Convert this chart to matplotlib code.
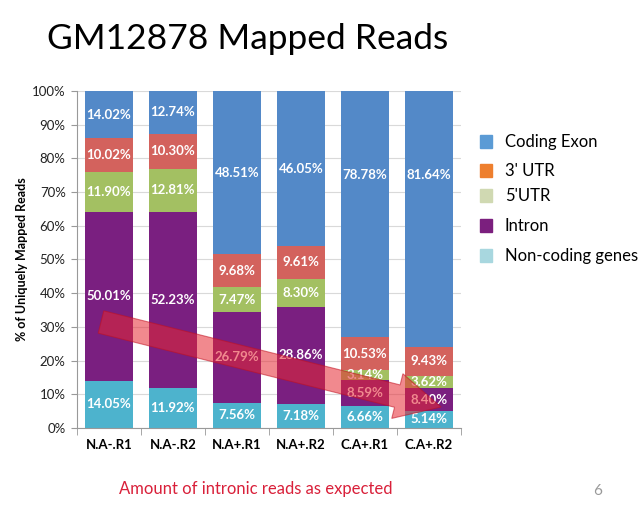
import matplotlib
matplotlib.use("Agg")
import matplotlib.pyplot as plt
import numpy as np
from matplotlib.patches import FancyArrow, Rectangle

plt.rcParams["font.family"] = ["Lato", "DejaVu Sans"]

samples = ["N.A-.R1", "N.A-.R2", "N.A+.R1", "N.A+.R2", "C.A+.R1", "C.A+.R2"]

# segment heights as drawn (bottom to top)
noncoding = [14.05, 11.92, 7.56, 7.18, 6.66, 5.10]
intron = [50.01, 52.23, 26.79, 28.86, 7.60, 6.70]
utr5 = [11.90, 12.81, 7.47, 8.30, 2.90, 3.70]
utr3 = [10.02, 10.30, 9.68, 9.61, 9.70, 8.50]
exon = [14.02, 12.74, 48.51, 46.05, 73.14, 76.00]

# value labels as printed on the slide
noncoding_lbl = ["14.05%", "11.92%", "7.56%", "7.18%", "6.66%", "5.14%"]
intron_lbl = ["50.01%", "52.23%", "26.79%", "28.86%", "8.59%", "8.40%"]
utr5_lbl = ["11.90%", "12.81%", "7.47%", "8.30%", "3.14%", "3.62%"]
utr3_lbl = ["10.02%", "10.30%", "9.68%", "9.61%", "10.53%", "9.43%"]
exon_lbl = ["14.02%", "12.74%", "48.51%", "46.05%", "78.78%", "81.64%"]

series = [
    ("Non-coding genes", noncoding, noncoding_lbl, "#4DB3CD", "#A8D7DF"),
    ("Intron", intron, intron_lbl, "#7A1F80", "#7B1F7E"),
    ("5'UTR", utr5, utr5_lbl, "#A3C062", "#D0D9B2"),
    ("3' UTR", utr3, utr3_lbl, "#D3625D", "#EE7F2E"),
    ("Coding Exon", exon, exon_lbl, "#5389C8", "#5B9BD5"),
]

fig = plt.figure(figsize=(6.4, 5.05), dpi=100)
ax = fig.add_axes([0.12, 0.1525, 0.6, 0.6673])

x = np.arange(len(samples))
bottom = np.zeros(len(samples))
for name, vals, lbls, col, _ in series:
    vals = np.array(vals)
    ax.bar(x, vals, 0.75, bottom=bottom, color=col, zorder=2)
    for i, (v, t) in enumerate(zip(vals, lbls)):
        yc = bottom[i] + v / 2
        if name == "Coding Exon" and i >= 4:
            yc = 75
        ax.text(x[i], yc, t, ha="center", va="center", color="white",
                fontsize=9.5, fontweight="bold", zorder=3)
    bottom += vals

ax.set_xlim(-0.5, len(samples) - 0.5)
ax.set_ylim(0, 100)
ax.set_yticks(np.arange(0, 101, 10))
ax.set_yticklabels([f"{v}%" for v in range(0, 101, 10)], fontsize=9.5, color="#222222")
ax.set_xticks(x)
ax.set_xticklabels(samples, fontsize=9.5, fontweight="bold")
ax.set_xticks(np.arange(-0.5, len(samples)), minor=True)
ax.tick_params(axis="x", which="major", length=0, pad=8)
ax.tick_params(axis="x", which="minor", length=5, color="#999999")
ax.tick_params(axis="y", length=4, color="#999999", pad=4)
ax.yaxis.grid(True, color="#D9D9D9", linewidth=0.8, zorder=0)
ax.set_axisbelow(True)
for s in ["top", "right"]:
    ax.spines[s].set_visible(False)
ax.spines["left"].set_color("#999999")
ax.spines["bottom"].set_color("#999999")
ax.set_ylabel("% of Uniquely Mapped Reads", fontsize=9, fontweight="bold", labelpad=3)

# title and slide text
fig.text(0.073, 0.922, "GM12878 Mapped Reads", fontsize=25.5, va="center", ha="left")
fig.text(0.40, 0.032, "Amount of intronic reads as expected", fontsize=12,
         color="#D9203A", ha="center", va="center")
fig.text(0.934, 0.028, "6", fontsize=11, color="#999999", ha="center", va="center")

# legend drawn by hand, pixel positions from the slide
leg_y = [142, 171, 196, 226, 256]
for (name, _, _, _, lcol), py in zip(reversed(series), leg_y):
    fig.patches.append(Rectangle((480 / 640, 1 - (py + 6) / 505), 12 / 640, 13 / 505,
                                 transform=fig.transFigure, color=lcol))
    fig.text(505 / 640, 1 - py / 505, name, fontsize=12, va="center", ha="left")

# overlay arrow in pixel space
ov = fig.add_axes([0, 0, 1, 1], zorder=10)
ov.set_xlim(0, 640)
ov.set_ylim(505, 0)
ov.axis("off")
ov.patch.set_alpha(0)
ov.add_patch(FancyArrow(101, 322, 340, 85, width=23, head_width=46, head_length=45,
                        length_includes_head=True, facecolor="#E62832", alpha=0.55,
                        edgecolor="#C01020", linewidth=0.8))

fig.savefig("out.png", dpi=100)
